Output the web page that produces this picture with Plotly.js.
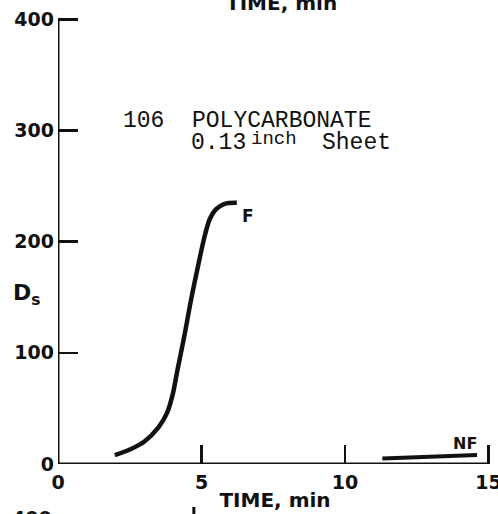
<!DOCTYPE html>
<html><head><meta charset="utf-8">
<script src="https://cdn.plot.ly/plotly-3.0.1.min.js"></script>
<style>html,body{margin:0;padding:0;background:#fff;}#chart{width:498px;height:514px;}</style>
</head><body><div id="chart"></div>
<script>
// Curve F (flaming) data
const timeF = [1.98, 2.5, 3.0, 3.5, 3.8, 4.0, 4.15, 4.4, 4.63, 4.87, 5.12, 5.3, 5.5, 5.8, 6.23];
const dsF   = [8, 13, 20, 33, 46, 63, 83, 115, 147, 177, 206, 221, 229, 234, 235];
// Curve NF (non-flaming) data
const timeNF = [11.3, 14.6];
const dsNF   = [5, 8];
// Axis ticks
const xTicks = [0, 5, 10, 15];
const yTicks = [0, 100, 200, 300, 400];

const W = 498, H = 514, L = 58, B = 50;
const X0 = 58, X15 = 489, Y0 = 464, Y400 = 19;     // pixel anchors of the reference axes
const xMax = 15.12, yMax = 403;
const R = W - (X0 + (X15 - X0) / 15 * xMax);
const T = Y0 - (Y0 - Y400) / 400 * yMax;
const pw = W - L - R, ph = H - T - B;
const px = x => (x - L) / pw;
const py = y => (H - B - y) / ph;

const ink = '#111111';
const boldSans = {family: 'DejaVu Sans', size: 19, color: ink, weight: 'bold'};
const monoFam = 'Liberation Mono, Courier New, monospace';
const mono = {family: monoFam, size: 23, color: ink};

const traces = [
  {x: timeF, y: dsF, mode: 'lines', line: {color: ink, width: 4.5, shape: 'spline', smoothing: 1}, hoverinfo: 'skip'},
  {x: timeNF, y: dsNF, mode: 'lines', line: {color: ink, width: 4}, hoverinfo: 'skip'}
];

const layout = {
  width: W, height: H,
  margin: {l: L, r: R, t: T, b: B, pad: 0},
  paper_bgcolor: '#fff', plot_bgcolor: '#fff',
  showlegend: false,
  xaxis: {
    range: [0, xMax], tickvals: xTicks, ticktext: xTicks.map(String),
    showgrid: false, zeroline: false, showline: false,
    ticks: 'inside', ticklen: 19, tickwidth: 2.5, tickcolor: ink,
    tickfont: boldSans, ticklabelstandoff: 5, ticklabeloverflow: 'allow',
    title: {text: 'TIME, min', font: {family: 'DejaVu Sans', size: 20, color: ink, weight: 'bold'}, standoff: 0},
    automargin: false, fixedrange: true
  },
  yaxis: {
    range: [0, yMax], tickvals: yTicks, ticktext: yTicks.map(String),
    showgrid: false, zeroline: false, showline: false,
    ticks: 'inside', ticklen: 20, tickwidth: 2.5, tickcolor: ink,
    tickfont: boldSans, ticklabelstandoff: 3, ticklabeloverflow: 'allow',
    automargin: false, fixedrange: true
  },
  annotations: [
    {xref: 'paper', yref: 'paper', x: px(121), y: py(121), xanchor: 'left', yanchor: 'middle', showarrow: false,
     text: '106  POLYCARBONATE', font: mono},
    {xref: 'paper', yref: 'paper', x: px(189), y: py(143), xanchor: 'left', yanchor: 'middle', showarrow: false,
     text: '0.13', font: mono},
    {xref: 'paper', yref: 'paper', x: px(249), y: py(139), xanchor: 'left', yanchor: 'middle', showarrow: false,
     text: 'inch', font: {family: monoFam, size: 19, color: ink}},
    {xref: 'paper', yref: 'paper', x: px(320), y: py(143), xanchor: 'left', yanchor: 'middle', showarrow: false,
     text: 'Sheet', font: mono},
    {xref: 'paper', yref: 'paper', x: px(248), y: py(216), xanchor: 'center', yanchor: 'middle', showarrow: false,
     text: 'F', font: {family: 'DejaVu Sans', size: 17, color: ink, weight: 'bold'}},
    {xref: 'paper', yref: 'paper', x: px(465), y: py(443), xanchor: 'center', yanchor: 'middle', showarrow: false,
     text: 'NF', font: {family: 'DejaVu Sans', size: 16, color: ink, weight: 'bold'}},
    {xref: 'paper', yref: 'paper', x: px(26), y: py(294), xanchor: 'center', yanchor: 'middle', showarrow: false,
     text: 'D<sub>s</sub>', font: {family: 'DejaVu Sans', size: 22, color: ink, weight: 'bold'}},
    {xref: 'paper', yref: 'paper', x: px(282), y: py(17), xanchor: 'center', yanchor: 'bottom', showarrow: false,
     text: 'TIME, min', font: {family: 'DejaVu Sans', size: 20, color: ink, weight: 'bold'}},
    {xref: 'paper', yref: 'paper', x: px(32), y: py(505), xanchor: 'center', yanchor: 'top', showarrow: false,
     text: '400', font: boldSans}
  ],
  shapes: [
    // axis lines, drawn from origin to the last tick like the reference
    {type: 'line', xref: 'x', yref: 'y', x0: 0, x1: 0, y0: 0, y1: 400, line: {color: ink, width: 3}},
    {type: 'line', xref: 'x', yref: 'y', x0: 0, x1: 15, y0: 0, y1: 0, line: {color: ink, width: 3}},
    {type: 'line', xref: 'paper', yref: 'paper', x0: px(194), x1: px(194), y0: py(507), y1: py(516), line: {color: ink, width: 3}}
  ]
};

Plotly.newPlot('chart', traces, layout, {staticPlot: true, displayModeBar: false});
</script></body></html>
